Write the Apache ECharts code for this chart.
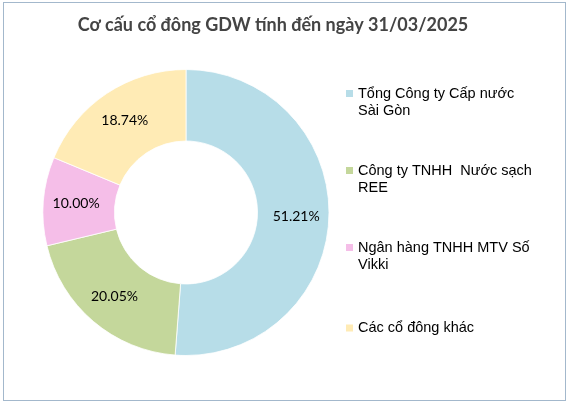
<!DOCTYPE html>
<html>
<head>
<meta charset="utf-8">
<script src="https://cdn.jsdelivr.net/npm/echarts@6/dist/echarts.min.js"></script>
<style>
html,body{margin:0;padding:0;background:#fff;}
#frame{position:absolute;left:3px;top:2px;width:561px;height:397px;border:1.5px solid #a3b8cc;box-sizing:content-box;}
#chart{position:absolute;left:0;top:0;width:571px;height:406px;}
</style>
</head>
<body>
<div id="frame"></div>
<div id="chart"></div>
<script>
const titleText = 'Cơ cấu cổ đông GDW tính đến ngày 31/03/2025';
const categories = ['Tổng Công ty Cấp nước Sài Gòn', 'Công ty TNHH  Nước sạch REE', 'Ngân hàng TNHH MTV Số Vikki', 'Các cổ đông khác'];
const legendLabels = ['Tổng Công ty Cấp nước\nSài Gòn', 'Công ty TNHH  Nước sạch\nREE', 'Ngân hàng TNHH MTV Số\nVikki', 'Các cổ đông khác'];
const values = [51.21, 20.05, 10.00, 18.74];
const colors = ['#b7dde8', '#c4d79b', '#f5bee8', '#ffebb5'];

const iconTwoLine = 'path://M0,0L7,0L7,7L0,7Z M0,24L0.001,24Z';
const iconOneLine = 'path://M0,0L0.001,0Z M0,8.5L7,8.5L7,15.5L0,15.5Z M0,24L0.001,24Z';

const chart = echarts.init(document.getElementById('chart'), null, {renderer: 'canvas'});
chart.setOption({
  backgroundColor: 'transparent',
  animation: false,
  color: colors,
  title: {
    text: titleText,
    left: 268,
    textAlign: 'center',
    top: 11,
    textStyle: {fontFamily: 'Lato', fontWeight: 'bold', fontSize: 18, color: '#444444'}
  },
  legend: {
    orient: 'vertical',
    left: 346,
    top: 85,
    padding: 0,
    itemGap: 43,
    itemWidth: 7,
    itemHeight: 24,
    data: categories.map((n, i) => ({name: n, icon: i === 3 ? iconOneLine : iconTwoLine})),
    formatter: name => legendLabels[categories.indexOf(name)],
    textStyle: {fontFamily: 'Liberation Sans', fontSize: 14.5, color: '#000', lineHeight: 17, padding: [0,0,0,0]},
    itemStyle: {borderWidth: 0}
  },
  series: [{
    type: 'pie',
    center: [186, 212.5],
    radius: [71.5, 143],
    startAngle: 90,
    clockwise: true,
    data: categories.map((n, i) => ({name: n, value: values[i]})),
    itemStyle: {borderColor: '#fff', borderWidth: 0.8},
    label: {
      position: 'inside',
      formatter: p => p.value.toFixed(2) + '%',
      fontFamily: 'Lato',
      fontSize: 14,
      color: '#000'
    },
    labelLine: {show: false},
    emphasis: {disabled: true}
  }]
});
</script>
</body>
</html>
